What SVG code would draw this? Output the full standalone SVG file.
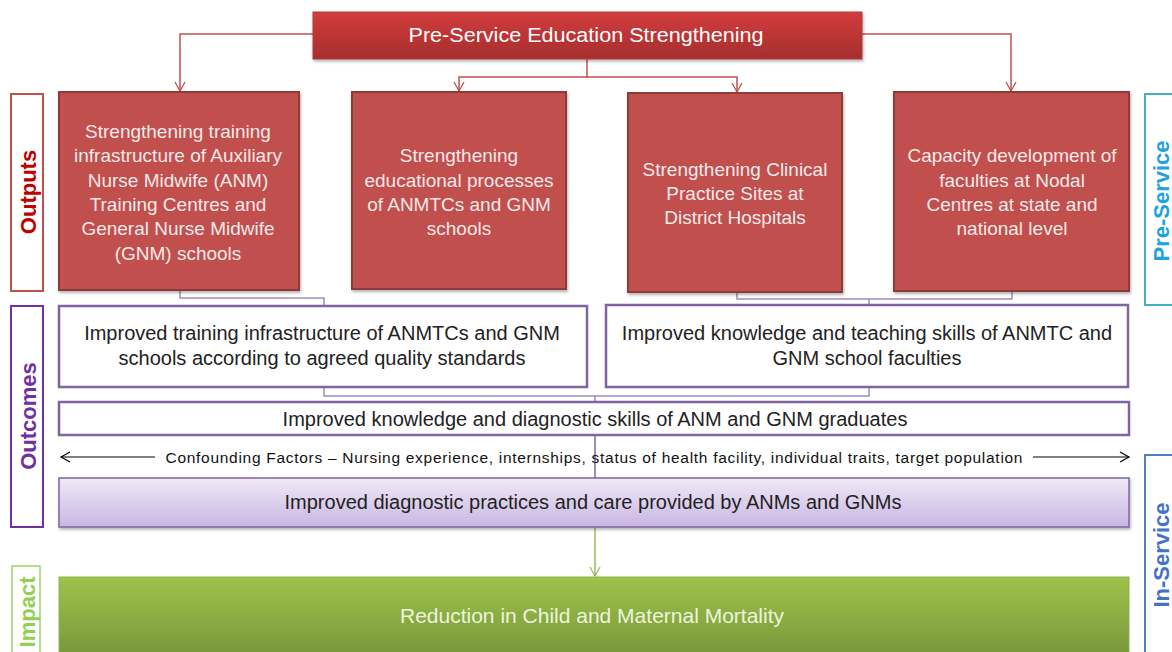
<svg xmlns="http://www.w3.org/2000/svg" width="1172" height="652" viewBox="0 0 1172 652">
<defs>
<linearGradient id="gTop" x1="0" y1="0" x2="0" y2="1"><stop offset="0" stop-color="#d23c3c"/><stop offset="1" stop-color="#a62e2e"/></linearGradient>
<linearGradient id="gLav" x1="0" y1="0" x2="0" y2="1"><stop offset="0" stop-color="#efe9f7"/><stop offset="1" stop-color="#c9b6e2"/></linearGradient>
<linearGradient id="gGreen" x1="0" y1="0" x2="0" y2="1"><stop offset="0" stop-color="#9dc34a"/><stop offset="1" stop-color="#76943a"/></linearGradient>
<filter id="sh" x="-5%" y="-10%" width="110%" height="130%"><feDropShadow dx="1" dy="2" stdDeviation="1.5" flood-color="#000" flood-opacity="0.3"/></filter>
<marker id="aRed" markerWidth="12" markerHeight="12" refX="10" refY="6" orient="auto" markerUnits="userSpaceOnUse"><path d="M1,1 L10,6 L1,11" fill="none" stroke="#c0504d" stroke-width="1.3"/></marker>
<marker id="aGreen" markerWidth="12" markerHeight="12" refX="10" refY="6" orient="auto" markerUnits="userSpaceOnUse"><path d="M1,1 L10,6 L1,11" fill="none" stroke="#9bbb59" stroke-width="1.3"/></marker>
<marker id="aBlk" markerWidth="12" markerHeight="12" refX="10" refY="6" orient="auto" markerUnits="userSpaceOnUse"><path d="M1,1 L10,6 L1,11" fill="none" stroke="#000" stroke-width="1.2"/></marker>
</defs>
<style>
text{font-family:"Liberation Sans",Arial,sans-serif;text-anchor:middle;dominant-baseline:central}
.red{fill:#c0504d;stroke:#8c3a37;stroke-width:2}
.wt{fill:#f7e9e8;font-size:19px}
.pbox{fill:#fff;stroke:#8064a2;stroke-width:2.5}
.dk{fill:#222;font-size:20px}
.lbl{font-weight:bold;font-size:22px}
.cr{fill:none;stroke:#c0504d;stroke-width:1.5}
.cp{fill:none;stroke:#a08cc0;stroke-width:1.5}
</style>

<g id="connectors">
<path class="cr" d="M313,34 H180 V91" marker-end="url(#aRed)"/>
<path class="cr" d="M587,59 V77 H459 V91" marker-end="url(#aRed)"/>
<path class="cr" d="M587,77 H737 V92" marker-end="url(#aRed)"/>
<path class="cr" d="M862,34 H1011 V91" marker-end="url(#aRed)"/>
<path class="cp" d="M180,290 V298 H324 V306"/>
<path class="cp" d="M737,292 V299 H1012 V291"/>
<path class="cp" d="M869,299 V305"/>
<path class="cp" d="M324,387 V396 H869 V387"/>
<path class="cp" d="M595,396 V402"/>
<path d="M595,435 V478" fill="none" stroke="#8064a2" stroke-width="1.5"/>
<path d="M595,527 V576" fill="none" stroke="#9bbb59" stroke-width="1.5" marker-end="url(#aGreen)"/>
<path d="M155,457 H61" fill="none" stroke="#000" stroke-width="1.2" marker-end="url(#aBlk)"/>
<path d="M1033,457 H1129" fill="none" stroke="#000" stroke-width="1.2" marker-end="url(#aBlk)"/>
</g>

<g id="top">
<rect x="313" y="12" width="549" height="47" fill="url(#gTop)" stroke="#b33a3a" stroke-width="1" filter="url(#sh)"/>
<text x="586" y="35" fill="#fff" font-size="20" textLength="355" lengthAdjust="spacingAndGlyphs">Pre-Service Education Strengthening</text>
</g>

<g id="out1">
<rect class="red" x="59" y="92" width="240" height="198" filter="url(#sh)"/>
<text class="wt" x="178" y="131">Strengthening training</text>
<text class="wt" x="178" y="155">infrastructure of Auxiliary</text>
<text class="wt" x="178" y="180">Nurse Midwife (ANM)</text>
<text class="wt" x="178" y="204">Training Centres and</text>
<text class="wt" x="178" y="228">General Nurse Midwife</text>
<text class="wt" x="178" y="253">(GNM) schools</text>
</g>
<g id="out2">
<rect class="red" x="352" y="92" width="214" height="197" filter="url(#sh)"/>
<text class="wt" x="459" y="155">Strengthening</text>
<text class="wt" x="459" y="180">educational processes</text>
<text class="wt" x="459" y="204">of ANMTCs and GNM</text>
<text class="wt" x="459" y="228">schools</text>
</g>
<g id="out3">
<rect class="red" x="628" y="93" width="214" height="199" filter="url(#sh)"/>
<text class="wt" x="735" y="169">Strengthening Clinical</text>
<text class="wt" x="735" y="193">Practice Sites at</text>
<text class="wt" x="735" y="217">District Hospitals</text>
</g>
<g id="out4">
<rect class="red" x="894" y="92" width="235" height="199" filter="url(#sh)"/>
<text class="wt" x="1012" y="155">Capacity development of</text>
<text class="wt" x="1012" y="180">faculties at Nodal</text>
<text class="wt" x="1012" y="204">Centres at state and</text>
<text class="wt" x="1012" y="228">national level</text>
</g>

<g id="outcomeA">
<rect class="pbox" x="59" y="306" width="528" height="81"/>
<text class="dk" x="322" y="333">Improved training infrastructure of ANMTCs and GNM</text>
<text class="dk" x="322" y="358">schools according to agreed quality standards</text>
</g>
<g id="outcomeB">
<rect class="pbox" x="606" y="305" width="522" height="82"/>
<text class="dk" x="867" y="333">Improved knowledge and teaching skills of ANMTC and</text>
<text class="dk" x="867" y="358">GNM school faculties</text>
</g>
<g id="outcomeC">
<rect class="pbox" x="59" y="402" width="1070" height="33"/>
<text class="dk" x="595" y="419">Improved knowledge and diagnostic skills of ANM and GNM graduates</text>
</g>
<g id="confounding">
<text x="594" y="457" fill="#111" font-size="15.5" textLength="857" lengthAdjust="spacing">Confounding Factors – Nursing experience, internships, status of health facility, individual traits, target population</text>
</g>
<g id="practice">
<rect x="59" y="478" width="1070" height="49" fill="url(#gLav)" stroke="#8064a2" stroke-width="1.5" filter="url(#sh)"/>
<text class="dk" x="593" y="502">Improved diagnostic practices and care provided by ANMs and GNMs</text>
</g>
<g id="impact">
<rect x="59" y="577" width="1070" height="85" fill="url(#gGreen)" stroke="#8fb14e" stroke-width="1"/>
<text x="592" y="615" fill="#eef3df" font-size="21">Reduction in Child and Maternal Mortality</text>
</g>

<g id="lblOutputs">
<rect x="11" y="94" width="32" height="197" fill="#fff" stroke="#c0504d" stroke-width="2"/>
<text class="lbl" transform="translate(28,192) rotate(-90)" fill="#c00000">Outputs</text>
</g>
<g id="lblOutcomes">
<rect x="11" y="306" width="32" height="221" fill="#fff" stroke="#7030a0" stroke-width="2"/>
<text class="lbl" transform="translate(28,416) rotate(-90)" fill="#7030a0">Outcomes</text>
</g>
<g id="lblImpact">
<rect x="12" y="566" width="28" height="96" fill="#fff" stroke="#9bd46a" stroke-width="1.5"/>
<text class="lbl" transform="translate(27,612) rotate(-90)" fill="#92d050" font-size="16">Impact</text>
</g>
<g id="lblPre">
<rect x="1145" y="94" width="40" height="211" fill="#fff" stroke="#4bacc6" stroke-width="2"/>
<text class="lbl" transform="translate(1161,201) rotate(-90)" fill="#1ea2e2">Pre-Service</text>
</g>
<g id="lblIn">
<rect x="1145" y="455" width="40" height="210" fill="#fff" stroke="#4f81bd" stroke-width="2"/>
<text class="lbl" transform="translate(1161,555) rotate(-90)" fill="#4472c4">In-Service</text>
</g>
</svg>
